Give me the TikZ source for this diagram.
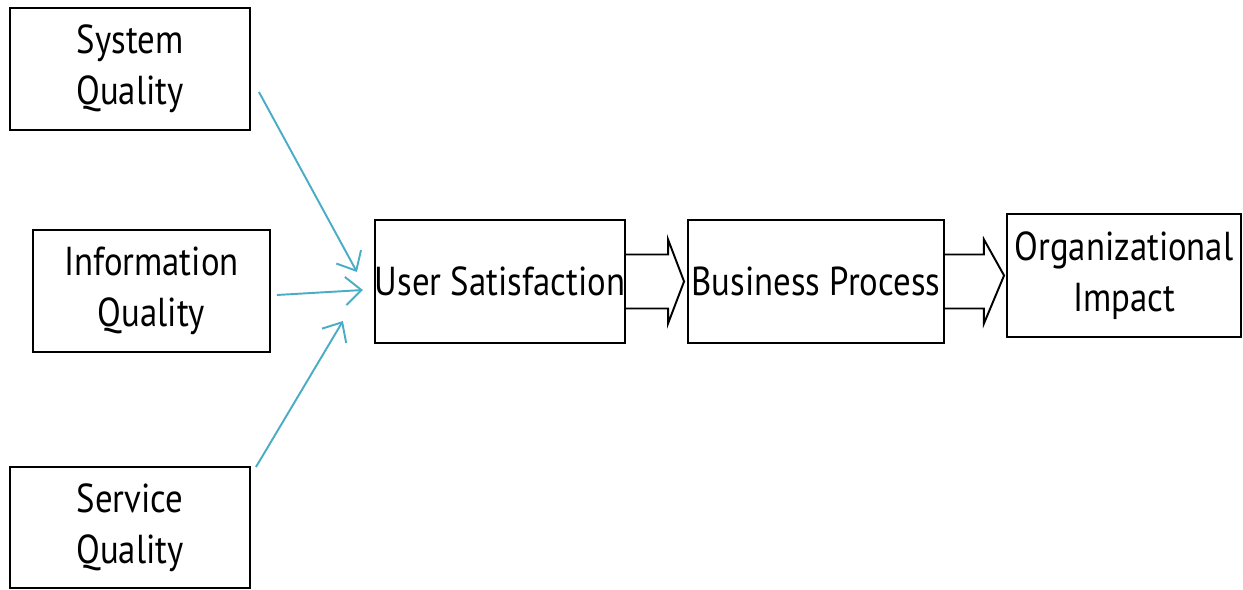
\documentclass[tikz,border=0pt]{standalone}
\usepackage{fontspec}
\setmainfont{PT Sans}[FakeStretch=0.86]
\usetikzlibrary{arrows.meta,calc}

\definecolor{linkblue}{RGB}{75,172,198}

\tikzset{
  factor/.style={draw, line width=1.1pt, align=center, inner sep=0pt,
    font=\fontsize{23}{29}\selectfont},
  link/.style={draw=linkblue, line width=1.1pt,
    -{Straight Barb[length=9pt,width=16pt]}},
  flow/.style={draw, line width=1.1pt, line join=miter}
}

\begin{document}
\begin{tikzpicture}[x=0.02cm,y=-0.02cm]
   \useasboundingbox (0,0) rectangle (1243,590);

   % the three quality boxes
   \node[factor, minimum width=4.8cm, minimum height=2.44cm] (sys) at (130,69) {System\\Quality};
   \node[factor, minimum width=4.74cm, minimum height=2.44cm] (info) at (151.5,291) {Information\\Quality};
   \node[factor, minimum width=4.8cm, minimum height=2.42cm] (serv) at (130,527.5) {Service\\Quality};

   % the chain
   \node[factor, minimum width=4.84cm, minimum height=2.46cm] (us) at (500,281.5) {User Satisfaction};
   \node[factor, minimum width=5.12cm, minimum height=2.46cm] (bp) at (816,281.5) {Business Process};
   \node[factor, minimum width=4.68cm, minimum height=2.46cm] (oi) at (1124,275.5) {Organizational\\Impact};

   % links into user satisfaction
   \draw[link] ([shift={(8,23)}]sys.east) -- ([shift={(-17,-9.5)}]us.west);
   \draw[link] ([shift={(6,4)}]info.east) -- ([shift={(-11,8.5)}]us.west);
   \draw[link] ([shift={(5,1)}]serv.north east) -- ([shift={(-31,39.5)}]us.west);

   % hollow arrows
   \draw[flow] ($(us.east)+(0,-27)$) -- ++(42,0) -- ++(0,-15)
     -- ($(bp.west)+(-3,0)$) -- ($(us.east)+(42,42)$) -- ++(0,-15) -- ($(us.east)+(0,27)$);
   \draw[flow] ($(bp.east)+(0,-27)$) -- ++(39,0) -- ++(0,-15)
     -- ($(oi.west)+(-2,0)$) -- ($(bp.east)+(39,42)$) -- ++(0,-15) -- ($(bp.east)+(0,27)$);
\end{tikzpicture}
\end{document}
